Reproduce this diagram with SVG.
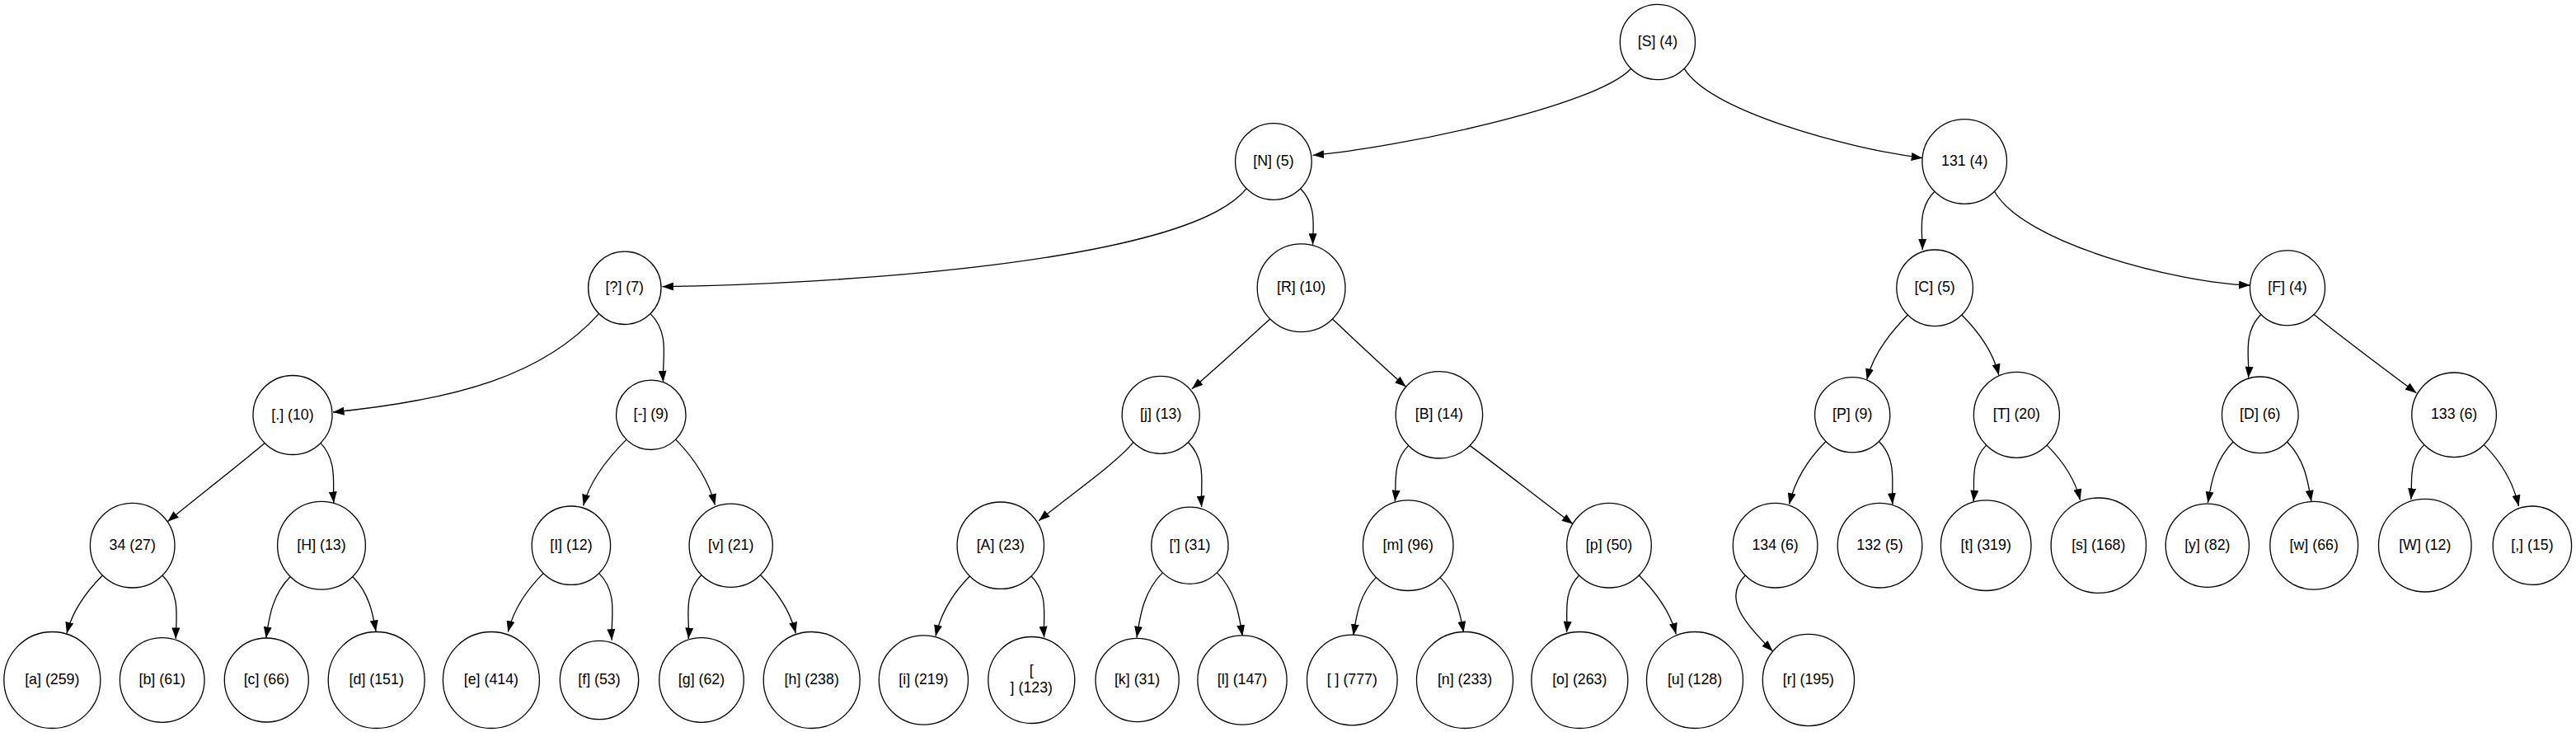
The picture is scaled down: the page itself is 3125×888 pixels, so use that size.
<svg xmlns="http://www.w3.org/2000/svg" width="3125" height="888" viewBox="0 0 3125 888">
<style>
.node circle{fill:#fff;stroke:#000;stroke-width:1.3}
.node text{font-family:"Liberation Sans",Arial,sans-serif;font-size:17.8px;text-anchor:middle;fill:#000}
#edges path{fill:none;stroke:#000;stroke-width:1.3;marker-end:url(#arrow)}
</style>
<defs>
<marker id="arrow" markerUnits="userSpaceOnUse" markerWidth="14" markerHeight="10" viewBox="0 0 13 9.4" refX="12.7" refY="4.7" orient="auto">
<path d="M0,0 L12.7,4.7 L0,9.4 z" fill="#000"/>
</marker>
</defs>
<rect width="3125" height="888" fill="#fff"/>
<g id="edges">
<path d="M124.4,698 C103.3,719.1 87,744.2 81,768.3"/>
<path d="M197,698 C220,721 213.3,752.5 213.3,775"/>
<path d="M352.2,699.5 C329.8,721.9 326.4,750.3 322.7,774"/>
<path d="M427.8,699.5 C447.8,719.5 452.4,744.6 456,766"/>
<path d="M321.1,537.4 C300,556 228,612 203.3,632.7"/>
<path d="M388.9,537.4 C410.3,560.3 403,588.3 405,610"/>
<path d="M726.5,380.6 C660,455 554,485 404,500"/>
<path d="M789.1,380.6 C813.9,405.4 802.7,438.2 804.6,463.3"/>
<path d="M760,533.1 C736,557.1 714.9,585.5 707.7,613.3"/>
<path d="M819.6,533.1 C843.5,557 860.8,585.7 867.3,612.7"/>
<path d="M659.2,695.4 C637.8,716.8 622.2,742.4 616.3,766.7"/>
<path d="M726.6,695.4 C751,719.8 740.4,752 742.3,776.7"/>
<path d="M850.9,697.5 C827.6,720.8 837.1,751.4 835.2,775"/>
<path d="M922.5,697.5 C943.7,718.7 959.5,744.2 965.3,768.3"/>
<path d="M1512.2,228.7 C1440,320 1000,345 803.4,347.7"/>
<path d="M1577.6,228.7 C1598,249.1 1592.6,276.3 1592.6,296.7"/>
<path d="M1540.8,387.1 C1515,410 1470,451.5 1445.9,471.7"/>
<path d="M1616.4,387.1 C1641,410 1682,449 1705.6,469.3"/>
<path d="M1374.8,536.7 C1354.8,561.7 1290,606.7 1260.2,631.7"/>
<path d="M1441.6,536.7 C1465.1,560.2 1455.8,591.2 1457.7,615"/>
<path d="M1176.5,699 C1154.7,720.8 1140.6,747.2 1135,771.7"/>
<path d="M1251.1,699 C1273.4,721.3 1264.8,750.6 1266.7,773.3"/>
<path d="M1410.4,694.6 C1386.8,718.2 1383,748.2 1379,773.3"/>
<path d="M1476.4,694.6 C1499.5,717.7 1503.3,747.1 1507.3,771.7"/>
<path d="M1708.6,540.6 C1688.3,560.9 1694.3,587.5 1692.3,608.3"/>
<path d="M1783.2,540.6 C1810,560 1880,615 1908.2,635.7"/>
<path d="M1669.5,700.4 C1648.4,721.5 1645.3,748.3 1641.8,770.7"/>
<path d="M1746.9,700.4 C1767,720.5 1771.8,745.8 1775.5,767.3"/>
<path d="M1915.7,698 C1894.9,718.8 1902.4,746.1 1900.5,767.3"/>
<path d="M1988.3,698 C2009.7,719.4 2027,744.8 2033.2,769.3"/>
<path d="M1978.7,83.2 C1935,130 1690,180 1592.6,188.3"/>
<path d="M2043.1,83.2 C2075,135 2240,180 2332.2,191.7"/>
<path d="M2346.9,232.3 C2325.6,253.6 2332.2,282 2332.2,303.3"/>
<path d="M2419.5,232.3 C2455,295 2640,343 2729.6,346"/>
<path d="M2314.4,382 C2290.8,405.6 2271.5,433.6 2264.7,460.7"/>
<path d="M2379.8,382 C2401.7,403.9 2418.7,430 2424.8,455"/>
<path d="M2742.8,381.5 C2719.8,404.5 2729.4,434.9 2727.5,458.3"/>
<path d="M2807.2,381.5 C2835,405 2905,457 2931.4,476.7"/>
<path d="M2215,535.5 C2192.1,558.4 2176.6,585.9 2170.6,611.7"/>
<path d="M2279.4,535.5 C2302.3,558.4 2294,588.4 2296,611.7"/>
<path d="M2409.6,540.1 C2389.1,560.6 2396,587.4 2394.1,608.3"/>
<path d="M2483.2,540.1 C2503.2,560.1 2518,584 2523.5,606.7"/>
<path d="M2709.1,536 C2686.9,558.2 2682.3,586.3 2678.4,610"/>
<path d="M2774.5,536 C2796.2,557.7 2800.1,585.2 2803.9,608.3"/>
<path d="M2940.8,539.6 C2920.9,559.5 2926.8,585.6 2924.8,606"/>
<path d="M3013.4,539.6 C3035.7,561.9 3049.9,589 3055.5,614"/>
<path d="M2117.3,698 C2090,725 2115,755 2150.5,790"/>
</g>
<g id="nS" class="node"><circle cx="2010.9" cy="51" r="45.6"/><text x="2010.9" y="56">[S] (4)</text></g>
<g id="nN" class="node"><circle cx="1544.9" cy="196" r="46.3"/><text x="1544.9" y="201">[N] (5)</text></g>
<g id="n131" class="node"><circle cx="2383.2" cy="196" r="51.3"/><text x="2383.2" y="201">131 (4)</text></g>
<g id="nQ" class="node"><circle cx="757.8" cy="349.3" r="44.2"/><text x="757.8" y="354.3">[?] (7)</text></g>
<g id="nR" class="node"><circle cx="1578.6" cy="349.3" r="53.4"/><text x="1578.6" y="354.3">[R] (10)</text></g>
<g id="nC" class="node"><circle cx="2347.1" cy="349.3" r="46.3"/><text x="2347.1" y="354.3">[C] (5)</text></g>
<g id="nF" class="node"><circle cx="2775" cy="349.3" r="45.5"/><text x="2775" y="354.3">[F] (4)</text></g>
<g id="nDot" class="node"><circle cx="355" cy="503.5" r="48"/><text x="355" y="508.5">[.] (10)</text></g>
<g id="nDash" class="node"><circle cx="789.8" cy="503.3" r="42.2"/><text x="789.8" y="508.3">[-] (9)</text></g>
<g id="nj" class="node"><circle cx="1408.2" cy="503.3" r="47"/><text x="1408.2" y="508.3">[j] (13)</text></g>
<g id="nB" class="node"><circle cx="1745.9" cy="503.3" r="52.7"/><text x="1745.9" y="508.3">[B] (14)</text></g>
<g id="nP" class="node"><circle cx="2247.2" cy="503.3" r="45.6"/><text x="2247.2" y="508.3">[P] (9)</text></g>
<g id="nT" class="node"><circle cx="2446.4" cy="503.3" r="52"/><text x="2446.4" y="508.3">[T] (20)</text></g>
<g id="nD" class="node"><circle cx="2741.8" cy="503.3" r="46.3"/><text x="2741.8" y="508.3">[D] (6)</text></g>
<g id="n133" class="node"><circle cx="2977.1" cy="503.3" r="51.3"/><text x="2977.1" y="508.3">133 (6)</text></g>
<g id="n34" class="node"><circle cx="160.7" cy="661.7" r="51.3"/><text x="160.7" y="666.7">34 (27)</text></g>
<g id="nH" class="node"><circle cx="390" cy="661.7" r="53.4"/><text x="390" y="666.7">[H] (13)</text></g>
<g id="nI" class="node"><circle cx="692.9" cy="661.7" r="47.7"/><text x="692.9" y="666.7">[I] (12)</text></g>
<g id="nv" class="node"><circle cx="886.7" cy="661.7" r="50.6"/><text x="886.7" y="666.7">[v] (21)</text></g>
<g id="nA" class="node"><circle cx="1213.8" cy="661.7" r="52.7"/><text x="1213.8" y="666.7">[A] (23)</text></g>
<g id="nApos" class="node"><circle cx="1443.4" cy="661.7" r="46.6"/><text x="1443.4" y="666.7">['] (31)</text></g>
<g id="nm" class="node"><circle cx="1708.2" cy="661.7" r="54.8"/><text x="1708.2" y="666.7">[m] (96)</text></g>
<g id="np" class="node"><circle cx="1952" cy="661.7" r="51.3"/><text x="1952" y="666.7">[p] (50)</text></g>
<g id="n134" class="node"><circle cx="2153.6" cy="661.7" r="51.3"/><text x="2153.6" y="666.7">134 (6)</text></g>
<g id="n132" class="node"><circle cx="2280.5" cy="661.7" r="51.3"/><text x="2280.5" y="666.7">132 (5)</text></g>
<g id="nt" class="node"><circle cx="2409.2" cy="661.7" r="54.8"/><text x="2409.2" y="666.7">[t] (319)</text></g>
<g id="ns" class="node"><circle cx="2545.8" cy="661.7" r="57.7"/><text x="2545.8" y="666.7">[s] (168)</text></g>
<g id="ny" class="node"><circle cx="2677.8" cy="661.7" r="50.6"/><text x="2677.8" y="666.7">[y] (82)</text></g>
<g id="nw" class="node"><circle cx="2807.2" cy="661.7" r="53.4"/><text x="2807.2" y="666.7">[w] (66)</text></g>
<g id="nW" class="node"><circle cx="2941.8" cy="661.7" r="56.3"/><text x="2941.8" y="666.7">[W] (12)</text></g>
<g id="nComma" class="node"><circle cx="3071.9" cy="661.7" r="47.7"/><text x="3071.9" y="666.7">[,] (15)</text></g>
<g id="na" class="node"><circle cx="63.3" cy="825" r="58.5"/><text x="63.3" y="830">[a] (259)</text></g>
<g id="nb" class="node"><circle cx="196.7" cy="825" r="51.3"/><text x="196.7" y="830">[b] (61)</text></g>
<g id="nc" class="node"><circle cx="323.3" cy="825" r="51"/><text x="323.3" y="830">[c] (66)</text></g>
<g id="nd" class="node"><circle cx="456.7" cy="825" r="58.5"/><text x="456.7" y="830">[d] (151)</text></g>
<g id="ne" class="node"><circle cx="595.9" cy="825" r="58.5"/><text x="595.9" y="830">[e] (414)</text></g>
<g id="nf" class="node"><circle cx="727" cy="825" r="47.7"/><text x="727" y="830">[f] (53)</text></g>
<g id="ng" class="node"><circle cx="851" cy="825" r="51.3"/><text x="851" y="830">[g] (62)</text></g>
<g id="nh" class="node"><circle cx="984.7" cy="825" r="58.5"/><text x="984.7" y="830">[h] (238)</text></g>
<g id="ni" class="node"><circle cx="1120.4" cy="825" r="54.1"/><text x="1120.4" y="830">[i] (219)</text></g>
<g id="nNewline" class="node"><circle cx="1251.3" cy="825" r="52.5"/><text x="1251.3" y="819">[</text><text x="1251.3" y="839.5">] (123)</text></g>
<g id="nk" class="node"><circle cx="1379.6" cy="825" r="50.6"/><text x="1379.6" y="830">[k] (31)</text></g>
<g id="nl" class="node"><circle cx="1507" cy="825" r="54.1"/><text x="1507" y="830">[l] (147)</text></g>
<g id="nSpace" class="node"><circle cx="1640.3" cy="825" r="54.8"/><text x="1640.3" y="830" xml:space="preserve">[ ] (777)</text></g>
<g id="nn" class="node"><circle cx="1777" cy="825" r="58.5"/><text x="1777" y="830">[n] (233)</text></g>
<g id="no" class="node"><circle cx="1916.3" cy="825" r="58.5"/><text x="1916.3" y="830">[o] (263)</text></g>
<g id="nu" class="node"><circle cx="2056" cy="825" r="58.5"/><text x="2056" y="830">[u] (128)</text></g>
<g id="nr" class="node"><circle cx="2193.9" cy="825" r="55.6"/><text x="2193.9" y="830">[r] (195)</text></g>
</svg>
